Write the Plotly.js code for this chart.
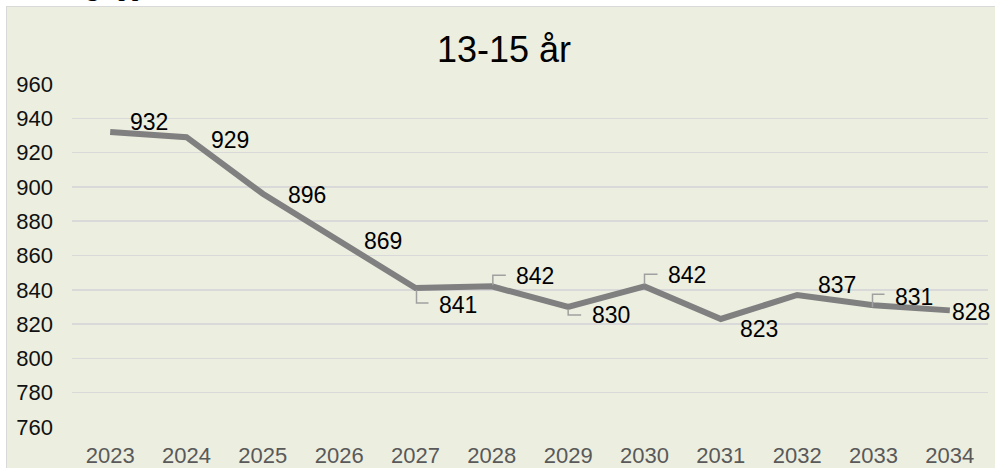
<!DOCTYPE html>
<html>
<head>
<meta charset="utf-8">
<script src="https://cdn.plot.ly/plotly-3.0.1.min.js"></script>
<style>
  html, body { margin: 0; padding: 0; background: #ffffff; width: 995px; height: 468px; overflow: hidden; }
  #doctext { position: absolute; left: 86px; top: -27px; font-family: "Liberation Serif", "Times New Roman", serif; font-size: 27px; line-height: 27px; color: #000; white-space: nowrap; }
  #chart { position: absolute; left: 6px; top: 6px; width: 988px; height: 461px; border-left: 1px solid #D9D9D9; border-top: 1px solid #D9D9D9; }
  #err { position: absolute; left: 100px; top: 200px; color: red; font: 12px monospace; z-index: 10; }
</style>
</head>
<body>
<div id="doctext">g app</div>
<div id="chart"></div>
<div id="err"></div>
<script>
window.onerror = function (m) { document.getElementById('err').textContent = String(m); };

// Data
const years = ["2023", "2024", "2025", "2026", "2027", "2028", "2029", "2030", "2031", "2032", "2033", "2034"];
const values = [932, 929, 896, 869, 841, 842, 830, 842, 823, 837, 831, 828];
const chartTitle = "13-15 år";
const yTicks = [760, 780, 800, 820, 840, 860, 880, 900, 920, 940, 960];

// Label placement (pixel offsets from each point) and leader-line paths (pixels, y up)
const labelShift = [[39, 10], [43, -3], [44, -1], [44, -1], [42, -17], [43, 10], [43, -8], [42, 11], [38, -10], [40, 10], [40, 8], [21, -2]];
const leaderPaths = [null, null, null, null, "M1,-2 L1,-15 L13,-15", "M1,1 L1,11 L14,11", "M0,-2 L0,-8 L13,-8", "M0,2 L0,12 L13,12", null, null, "M-1,-2 L-1,11 L11,11", null];

const fontFamily = '"Liberation Sans", Arial, sans-serif';

const trace = {
  type: 'scatter',
  mode: 'lines',
  x: years,
  y: values,
  line: { color: '#808080', width: 6 },
  cliponaxis: false,
  hoverinfo: 'skip'
};

const annotations = values.map((v, i) => ({
  x: i, y: v, xref: 'x', yref: 'y',
  text: String(v), showarrow: false,
  xshift: labelShift[i][0], yshift: labelShift[i][1],
  font: { family: fontFamily, size: 23, color: '#000000' },
  xanchor: 'center', yanchor: 'middle'
}));

const shapes = [];
values.forEach((v, i) => {
  if (leaderPaths[i]) {
    shapes.push({
      type: 'path', xref: 'x', yref: 'y',
      xsizemode: 'pixel', ysizemode: 'pixel',
      xanchor: i, yanchor: v,
      path: leaderPaths[i],
      line: { color: '#A0A0A0', width: 1.5 }
    });
  }
});

const layout = {
  width: 988, height: 461,
  paper_bgcolor: '#ECEEE0',
  plot_bgcolor: '#ECEEE0',
  margin: { l: 65, r: 7, t: 77, b: 41 },
  showlegend: false,
  title: {
    text: chartTitle,
    font: { family: fontFamily, size: 36, color: '#000000' },
    xref: 'container', yref: 'container',
    x: 0.503, y: 0.907, xanchor: 'center', yanchor: 'middle'
  },
  xaxis: {
    type: 'category',
    range: [-0.5, 11.5],
    showgrid: false, zeroline: false, showline: false,
    ticks: '',
    ticklabelstandoff: 13,
    tickfont: { family: fontFamily, size: 22, color: '#595959' }
  },
  yaxis: {
    range: [760, 960],
    tickvals: yTicks,
    ticktext: yTicks.map(String),
    showgrid: true, gridcolor: '#D9D9D9', gridwidth: 1.5,
    zeroline: false, showline: false,
    ticks: '',
    ticklabelstandoff: 18,
    tickfont: { family: fontFamily, size: 22, color: '#111111' }
  },
  annotations: annotations,
  shapes: shapes
};

Plotly.newPlot('chart', [trace], layout, { displayModeBar: false, staticPlot: true })
  .catch(function (e) { document.getElementById('err').textContent = String(e && e.stack || e); });
</script>
</body>
</html>
